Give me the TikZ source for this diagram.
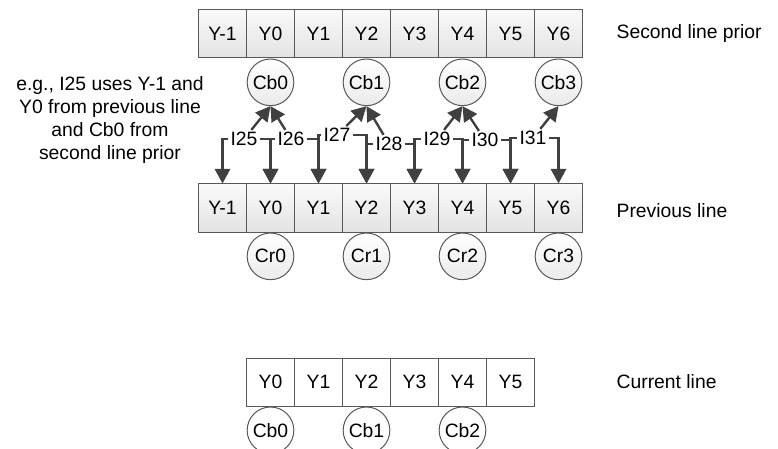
\documentclass[tikz,border=0pt]{standalone}
\usepackage{fontspec}
\setmainfont{Liberation Sans}
\usetikzlibrary{positioning,arrows.meta}

\tikzset{
  box/.style={draw=black!65, line width=0.75pt, minimum width=36pt, minimum height=36pt, inner sep=0pt},
  cell/.style={box, top color=black!2, bottom color=black!11},
  plaincell/.style={box, fill=white},
  dot/.style={circle, draw=black!65, line width=0.75pt, minimum size=35pt, inner sep=0pt},
  disc/.style={dot, top color=white, bottom color=black!8},
  plaindisc/.style={dot, fill=white},
  lbl/.style={inner sep=1.5pt},
  arr/.style={draw=black!75, line width=1.8pt, -{Triangle[length=11pt,width=11.5pt]}},
}

\begin{document}
\begin{tikzpicture}[x=0.75pt,y=0.75pt,yscale=-1,font=\fontsize{14.5}{17.25}\selectfont]
\useasboundingbox (0,0) rectangle (778,449);

%Row: second line prior
\foreach \l [count=\i from 0] in {Y-1,Y0,Y1,Y2,Y3,Y4,Y5,Y6}
  \node[cell] (s\i) at ({222.5+48*\i},34) {\l};
\node[disc, below=0pt of s1] (cb0) {Cb0};
\node[disc, below=0pt of s3] (cb1) {Cb1};
\node[disc, below=0pt of s5] (cb2) {Cb2};
\node[disc, below=0pt of s7] (cb3) {Cb3};
\node[anchor=west, inner sep=0pt, right=25pt of s7] (prior) {Second line prior};

%Row: previous line
\foreach \l [count=\i from 0] in {Y-1,Y0,Y1,Y2,Y3,Y4,Y5,Y6}
  \node[cell] (p\i) at ({222.5+48*\i},208) {\l};
\node[disc, below=0pt of p1] (cr0) {Cr0};
\node[disc, below=0pt of p3] (cr1) {Cr1};
\node[disc, below=0pt of p5] (cr2) {Cr2};
\node[disc, below=0pt of p7] (cr3) {Cr3};
\node[anchor=west, inner sep=0pt, right=25pt of p7, yshift=-2pt] (prev) {Previous line};

%Row: current line
\foreach \l [count=\i from 0] in {Y0,Y1,Y2,Y3,Y4,Y5}
  \node[plaincell] (c\i) at ({270.5+48*\i},382) {\l};
\node[plaindisc, below=0pt of c0] (cc0) {Cb0};
\node[plaindisc, below=0pt of c2] (cc1) {Cb1};
\node[plaindisc, below=0pt of c4] (cc2) {Cb2};
\node[anchor=west, inner sep=0pt, right=61pt of c5] (cur) {Current line};

% Text Node
\node[align=center] (note) at (110,120) {e.g., I25 uses Y-1 and\\Y0 from previous line\\and Cb0 from\\second line prior};

%Interpolated samples
\node[lbl] (i25) at (244,139) {I25};
\node[lbl] (i26) at (291,139) {I26};
\node[lbl] (i27) at (337,135) {I27};
\node[lbl] (i28) at (389,144) {I28};
\node[lbl] (i29) at (437,139) {I29};
\node[lbl] (i30) at (485,140) {I30};
\node[lbl] (i31) at (533,138) {I31};

\foreach \k in {0,...,6}{
  \pgfmathtruncatemacro\n{\k+1}
  \pgfmathtruncatemacro\t{25+\k}
  \draw[arr] (i\t.west) -| (p\k.north);
  \draw[arr] (i\t.east) -| (p\n.north);
}

\draw[arr] (i25) -- (cb0.south);
\draw[arr] (i26) -- (cb0.south);
\draw[arr] (i27) -- (cb1.south);
\draw[arr] (i28) -- (cb1.south);
\draw[arr] (i29) -- (cb2.south);
\draw[arr] (i30) -- (cb2.south);
\draw[arr] (i31) -- (cb3.south);
\end{tikzpicture}
\end{document}
